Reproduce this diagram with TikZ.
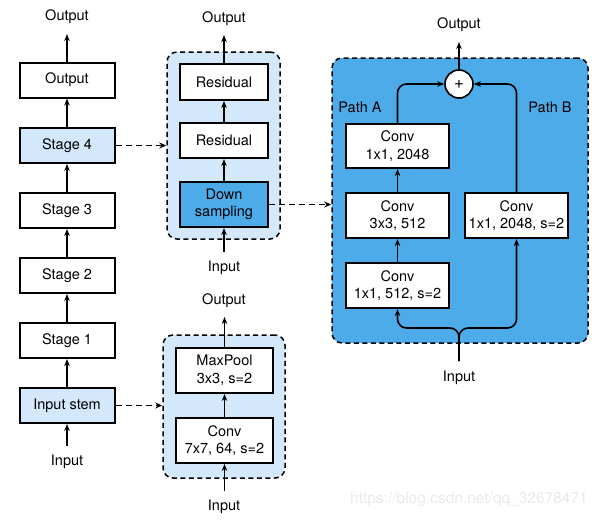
\documentclass[tikz,border=0pt]{standalone}
\usepackage{fontspec}
\setmainfont{TeX Gyre Heros}
\usetikzlibrary{arrows.meta}
\definecolor{lightblue}{HTML}{D4E8FC}
\definecolor{midblue}{HTML}{4EABE9}
\definecolor{wmgray}{HTML}{E9E9E9}
\begin{document}
\begin{tikzpicture}[x=1pt,y=-1pt,
  every node/.style={font=\fontsize{14.5}{17.5}\selectfont},
  box/.style={draw, line width=2pt, fill=white, align=center, inner sep=0pt, minimum width=95pt, minimum height=35pt},
  lbox/.style={box, fill=lightblue},
  panel/.style={draw, line width=1.5pt, dash pattern=on 5pt off 3.5pt, rounded corners=10pt, inner sep=0pt},
  lbl/.style={inner sep=0pt},
  arr/.style={line width=1.8pt, -{Stealth[length=7pt,width=5.5pt]}},
  darr/.style={line width=1.5pt, dash pattern=on 6pt off 4pt, -{Stealth[length=7pt,width=6pt]}}
]
\useasboundingbox (0,0) rectangle (597,520);

% ---------- left column ----------
\node[box]  (out)  at (67,80)    {Output};
\node[lbox] (s4)   at (67,145.5) {Stage 4};
\node[box]  (s3)   at (67,210.5) {Stage 3};
\node[box]  (s2)   at (67,275.5) {Stage 2};
\node[box]  (s1)   at (67,340.5) {Stage 1};
\node[lbox] (stem) at (67,405.5) {Input stem};
\node[lbl] (outL) at (67,17) {Output};
\node[lbl] (inL)  at (67,462) {Input};
\coordinate (outT) at (67,34);
\coordinate (inB)  at (67,446);
\draw[arr] (out.north) -- (outT);
\draw[arr] (s4.north) -- (out.south);
\draw[arr] (s3.north) -- (s4.south);
\draw[arr] (s2.north) -- (s3.south);
\draw[arr] (s1.north) -- (s2.south);
\draw[arr] (stem.north) -- (s1.south);
\draw[arr] (inB) -- (stem.south);

% ---------- middle top panel ----------
\node[panel, fill=lightblue, minimum width=113pt, minimum height=187pt] (p1) at (223.5,145.5) {};
\node[box, minimum width=88pt, minimum height=36pt] (r1) at (224,82) {Residual};
\node[box, minimum width=88pt] (r2) at (224,140.5) {Residual};
\node[box, fill=midblue, minimum width=88pt, minimum height=45pt] (ds) at (224,204.5) {Down\\sampling};
\node[lbl] (p1out) at (224,19) {Output};
\node[lbl] (p1in)  at (224,268) {Input};
\coordinate (p1T) at (224,35);
\coordinate (p1B) at (224,252);
\draw[arr] (r1.north) -- (p1T);
\draw[arr] (r2.north) -- (r1.south);
\draw[arr] (ds.north) -- (r2.south);
\draw[arr] (p1B) -- (ds.south);

% ---------- middle bottom panel ----------
\node[panel, fill=lightblue, minimum width=122pt, minimum height=143pt] (p2) at (224,406.5) {};
\node[box, minimum width=97pt, minimum height=45pt] (mp) at (224.5,370.5) {MaxPool\\3x3, s=2};
\node[box, minimum width=97pt, minimum height=45pt] (c7) at (224.5,440.5) {Conv\\7x7, 64, s=2};
\node[lbl] (p2out) at (224,301) {Output};
\node[lbl] (p2in)  at (224,507) {Input};
\coordinate (p2T) at (224.5,317);
\coordinate (p2B) at (224.5,491);
\draw[arr] (mp.north) -- (p2T);
\draw[arr] (c7.north) -- (mp.south);
\draw[arr] (p2B) -- (c7.south);

% ---------- right panel ----------
\node[panel, fill=midblue, minimum width=256pt, minimum height=285pt] (p3) at (460,200.5) {};
\node[draw, circle, line width=1.6pt, fill=white, minimum size=28pt, inner sep=0pt, font=\fontsize{17}{18}\selectfont] (plus) at (459,84) {+};
\node[box, minimum width=103pt, minimum height=44pt] (ca3) at (397.5,146) {Conv\\1x1, 2048};
\node[box, minimum width=103pt, minimum height=45pt] (ca2) at (397.5,215.5) {Conv\\3x3, 512};
\node[box, minimum width=103pt, minimum height=45pt] (ca1) at (397.5,285.5) {Conv\\1x1, 512, s=2};
\node[box, minimum width=103pt, minimum height=45pt] (cb)  at (516.5,215.5) {Conv\\1x1, 2048, s=2};
\node[lbl] (pa) at (360,107) {Path A};
\node[lbl] (pb) at (550,107) {Path B};
\node[lbl] (p3out) at (459,25) {Output};
\node[lbl] (p3in)  at (459,378) {Input};
\coordinate (p3T) at (459,42);
\coordinate (p3B) at (459,361);
\coordinate (split) at (459,328);
\draw[arr] (plus.north) -- (p3T);
\draw[arr, line width=1.6pt, rounded corners=9pt] (ca3.north) |- (plus.west);
\draw[arr, line width=1.6pt, rounded corners=9pt] (cb.north) |- (plus.east);
\draw[arr, line width=1.6pt] (ca2.north) -- (ca3.south);
\draw[arr, line width=1.6pt] (ca1.north) -- (ca2.south);
\draw[arr, line width=1.6pt, rounded corners=9pt] (p3B) -- (split) -| (ca1.south);
\draw[arr, line width=1.6pt, rounded corners=9pt] (p3B) -- (split) -| (cb.south);

% ---------- dashed links ----------
\draw[darr] (s4.east) -- (p1.west);
\draw[darr] (stem.east) -- (stem.east -| p2.west);
\draw[darr] (ds.east) -- (ds.east -| p3.west);

% ---------- watermark ----------
\node[lbl, text=wmgray, font=\fontsize{15.5}{18}\selectfont, anchor=east] (wm) at (588,500) {https://blog.csdn.net/qq\_32678471};
\end{tikzpicture}
\end{document}
